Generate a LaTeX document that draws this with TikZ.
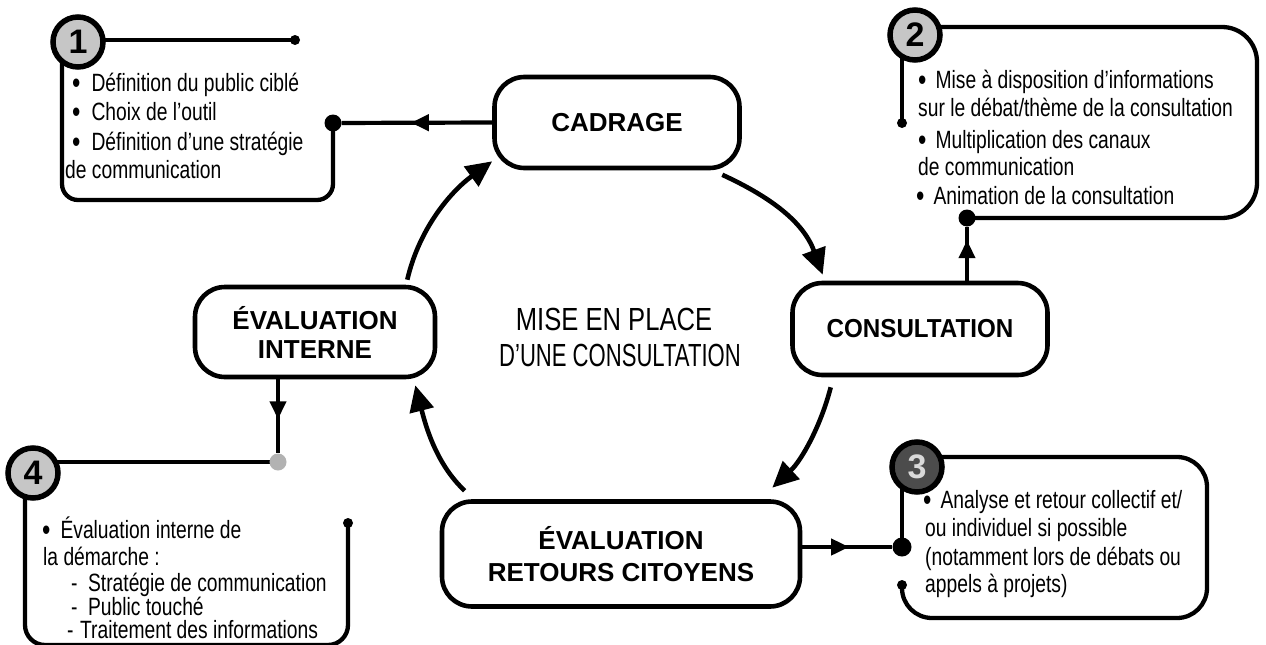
\documentclass[tikz,border=0pt]{standalone}
\usepackage{fontspec}
\setmainfont{Liberation Sans}
\newfontfamily\cnd{Liberation Sans}[FakeStretch=0.77]
\usetikzlibrary{arrows.meta,decorations.markings}
\newcommand{\bul}{\smash{\raisebox{-2.5pt}{\fontsize{31}{31}\selectfont •}}}
\begin{document}
\begin{tikzpicture}[x=1pt,y=-1pt]
\tikzset{
 frame/.style={line width=4.3pt, line cap=round},
 mainbox/.style={draw, line width=4.6pt, rounded corners=30pt, align=center, inner sep=0pt,
   font=\fontsize{26}{29}\selectfont\bfseries},
 cyc/.style={line width=4.6pt, -{Triangle[length=26pt,width=24pt]}},
 link/.style={line width=4.2pt, decoration={markings, mark=at position #1 with {\arrow{Triangle[length=18pt,width=16pt]}}}, postaction={decorate}},
 bigdot/.style={circle, fill=black, inner sep=0pt, minimum size=17pt},
 smalldot/.style={circle, fill=black, inner sep=0pt, minimum size=10pt},
 numc/.style={circle, draw, line width=5.5pt, fill=gray!45, minimum size=50pt, inner sep=0pt,
   font=\fontsize{34}{34}\selectfont\bfseries},
 txt/.style={anchor=base west, inner sep=0pt, font=\cnd\fontsize{25}{28}\selectfont},
 ctr/.style={anchor=base, inner sep=0pt, font=\fontsize{32}{32}\selectfont},
}
\useasboundingbox (0,0) rectangle (1266,645);
\clip (0,0) rectangle (1266,645);

% ---------- detail frames ----------
% box 1
\draw[frame] (90,40) -- (295,40);
\draw[frame, rounded corners=16pt] (62,50) -- (62,200) -- (333,200) -- (333,123);
% box 2
\draw[frame, rounded corners=35pt] (930,27) -- (1257,27) -- (1257,218) -- (967,218);
\draw[frame] (902,45) -- (902,123);
% box 3
\draw[frame, rounded corners=30pt] (930,457) -- (1207,457) -- (1207,618) -- (902,618) -- (902,585);
\draw[frame] (902,480) -- (902,547);
% box 4
\draw[frame] (45,462) -- (278,462);
\draw[frame, rounded corners=20pt] (25,480) -- (25,645) -- (348,645) -- (348,523);

% ---------- number circles ----------
\node[numc] (c1) at (78,42) {1};
\node[numc] (c2) at (915,35) {2};
\node[numc, fill=black!70, text=gray!30] (c3) at (917,467) {3};
\node[numc] (c4) at (33,473) {4};

% ---------- dots ----------
\node[bigdot] (d1) at (333,123) {};
\node[smalldot] (e1) at (295,40) {};
\node[bigdot] (d2) at (967,218) {};
\node[smalldot] (e2) at (902,123) {};
\node[bigdot, minimum size=19pt] (d3) at (902,547) {};
\node[smalldot] (e3) at (902,585) {};
\node[bigdot, fill=gray!60] (d4) at (278,462) {};
\node[smalldot] (e4) at (348,523) {};

% ---------- main boxes ----------
\node[mainbox, minimum width=245pt, minimum height=91pt] (cadrage) at (617,122.5) {CADRAGE};
\node[mainbox, minimum width=255pt, minimum height=92pt] (consultation) at (920,329) {\scalebox{0.93}[1]{CONSULTATION}};
\node[mainbox, minimum width=240pt, minimum height=90pt] (einterne) at (315,332) {ÉVALUATION\\INTERNE};
\node[mainbox, minimum width=358pt, minimum height=105pt, font=\fontsize{26}{32}\selectfont\bfseries] (eretours) at (621,554) {ÉVALUATION\\RETOURS CITOYENS};

% ---------- centre title ----------
\node[ctr] (m1) at (614,330) {\scalebox{0.8}[1]{MISE EN PLACE}};
\node[ctr] (m2) at (620,366) {\scalebox{0.69}[1]{D’UNE CONSULTATION}};

% ---------- cycle arrows ----------
\draw[cyc] ([shift={(-30,-5)}]einterne.north east) .. controls +(11.7,-50.6) and +(-42,30.6) .. ([shift={(0,-9)}]cadrage.south west);
\draw[cyc] ([shift={(-19.5,4.5)}]cadrage.south east) .. controls +(50,23) and +(-19,-52) .. ([shift={(32.5,-6)}]consultation.north west);
\draw[cyc] ([shift={(40.5,10)}]consultation.south west) .. controls +(-10,39) and +(29,-27) .. ([shift={(-30,-11.5)}]eretours.north east);
\draw[cyc] ([shift={(25,-8.5)}]eretours.north west) .. controls +(-29,-27) and +(10,39) .. ([shift={(-22,6)}]einterne.south east);

% ---------- links to detail boxes ----------
\draw[link=0.54] (cadrage.west) -- (d1);
\draw[link=0.75] ([shift={(47,0)}]consultation.north) -- (d2);
\draw[link=0.52] ([shift={(0,-7)}]eretours.east) -- (d3);
\draw[link=0.54] ([shift={(-37,0)}]einterne.south) -- (d4);

% ---------- texts ----------
\node[txt] (t11) at (72,91)  {\bul\hspace{11pt}Définition du public ciblé};
\node[txt] (t12) at (72,120) {\bul\hspace{11pt}Choix de l’outil};
\node[txt] (t13) at (72,150) {\bul\hspace{11pt}Définition d’une stratégie};
\node[txt] (t14) at (65,178) {de communication};

\node[txt] (t21) at (918,88)  {\bul\hspace{9pt}Mise à disposition d’informations};
\node[txt] (t22) at (918,116) {sur le débat/thème de la consultation};
\node[txt] (t23) at (918,148) {\bul\hspace{9pt}Multiplication des canaux};
\node[txt] (t24) at (918,175) {de communication};
\node[txt] (t25) at (916,204) {\bul\hspace{9pt}Animation de la consultation};

\node[txt] (t31) at (923,508) {\bul\hspace{9pt}Analyse et retour collectif et/};
\node[txt] (t32) at (925,536) {ou individuel si possible};
\node[txt] (t33) at (925,565) {(notamment lors de débats ou};
\node[txt] (t34) at (925,592) {appels à projets)};

\node[txt] (t41) at (42,538) {\bul\hspace{10pt}Évaluation interne de};
\node[txt] (t42) at (43,565) {la démarche :};
\node[txt] (t43) at (71,591) {-\hspace{10.5pt}Stratégie de communication};
\node[txt] (t44) at (71,615) {-\hspace{10.5pt}Public touché};
\node[txt] (t45) at (67,638) {-\hspace{6.5pt}Traitement des informations};
\end{tikzpicture}
\end{document}
